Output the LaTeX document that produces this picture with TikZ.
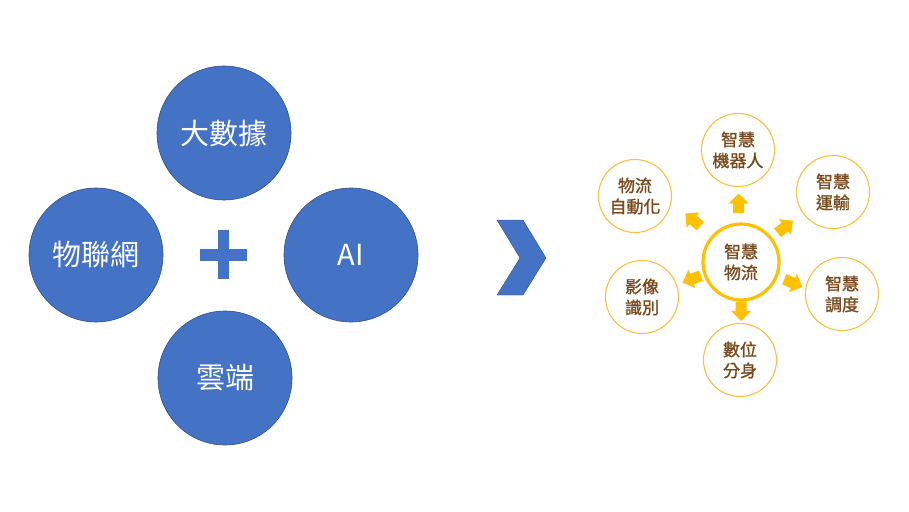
\documentclass[tikz,border=0pt]{standalone}
\usepackage{fontspec}
\setmainfont{Noto Sans CJK TC}
\newfontfamily\semibold{Noto Sans CJK TC}[FakeBold=1.2]
\definecolor{cblue}{HTML}{4472C4}
\definecolor{cblueline}{HTML}{2F528F}
\definecolor{gold}{HTML}{FFC000}
\definecolor{goldline}{HTML}{F6C143}
\definecolor{tbrown}{HTML}{7A4A1C}
\tikzset{
  bigcirc/.style={circle, minimum size=134pt, inner sep=0pt, fill=cblue, draw=cblueline, line width=0.6pt, text=white, font=\fontsize{29}{32}\selectfont},
  smallcirc/.style={circle, minimum size=73pt, inner sep=0pt, fill=white, draw=goldline, line width=1.1pt, text=tbrown, align=center, font=\semibold\fontsize{17}{21}\selectfont},
  hubcirc/.style={smallcirc, minimum size=76pt, draw=gold, line width=3.2pt},
  blockarrow/.pic={\fill[gold] (-9.5,-5.5) -- (0,-5.5) -- (0,-10) -- (10,0) -- (0,10) -- (0,5.5) -- (-9.5,5.5) -- cycle;}
}
\begin{document}
\begin{tikzpicture}[x=1pt,y=-1pt]
\useasboundingbox[fill=white] (0,0) rectangle (909,511);
% left group
\node[bigcirc] (bigdata) at (224,133) {大數據};
\node[bigcirc] (iot) at (96,255) {物聯網};
\node[bigcirc] (ai) at (351,255) {AI};
\node[bigcirc] (cloud) at (225,378) {雲端};
\fill[cblue] (200,249) rectangle (247,261);
\fill[cblue] (218,230) rectangle (229,279);
% chevron
\fill[cblue, draw=cblueline, line width=0.4pt] (497,220) -- (523,220) -- (546,258) -- (523,295) -- (497,295) -- (520,258) -- cycle;
% right group
\node[hubcirc] (hub) at (741,262) {智慧\\物流};
\node[smallcirc] (robot) at (738,150) {智慧\\機器人};
\node[smallcirc] (trans) at (833,192) {智慧\\運輸};
\node[smallcirc] (sched) at (842,294) {智慧\\調度};
\node[smallcirc] (twin) at (740,360) {數位\\分身};
\node[smallcirc] (image) at (642,297) {影像\\識別};
\node[smallcirc] (auto) at (635,196) {物流\\自動化};
% block arrows
\pic[rotate=90] at (738.5,203.5) {blockarrow};
\pic[rotate=270] at (741,311) {blockarrow};
\pic[rotate=140] at (693,220) {blockarrow};
\pic[rotate=200] at (692,279) {blockarrow};
\pic[rotate=38] at (785,227) {blockarrow};
\pic[rotate=-23] at (793,283) {blockarrow};
\end{tikzpicture}
\end{document}
